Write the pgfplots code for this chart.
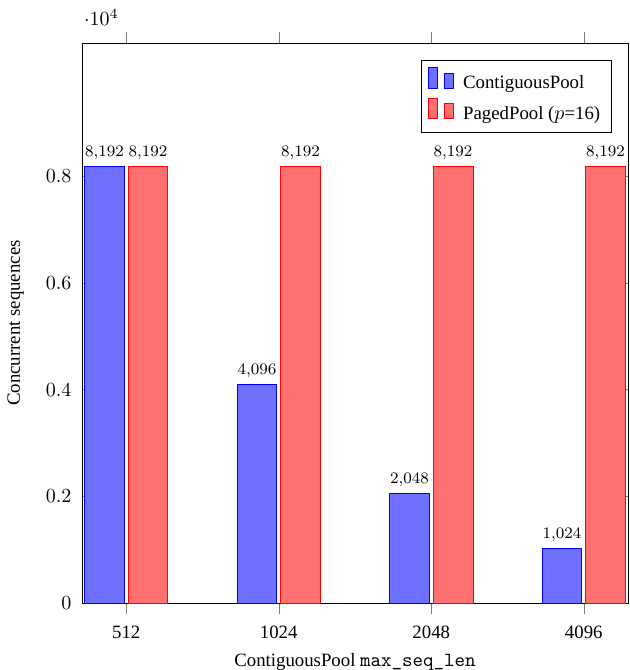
\documentclass[border=0pt]{standalone}
\usepackage{fontspec}
\setmainfont{Liberation Serif}[Scale=0.94]
\usepackage{pgfplots}
\pgfplotsset{compat=1.18}
\begin{document}
\begin{tikzpicture}
\begin{axis}[
  scale only axis,
  width=273pt, height=280pt,
  ybar, bar width=0.26,
  ybar=2pt,
  xmin=-0.29, xmax=3.29,
  ymin=0, ymax=10500,
  xtick={0,1,2,3},
  xticklabels={512,1024,2048,4096},
  xtick align=outside,
  major tick length=5.5pt,
  xticklabel style={yshift=-2.5pt},
  ytick={0,2000,4000,6000,8000},
  yticklabel style={xshift=-2pt},
  ylabel={Concurrent sequences},
  ylabel style={yshift=4.5pt},
  xlabel={ContiguousPool \texttt{max\_seq\_len}},
  xlabel style={yshift=-1pt},
  nodes near coords,
  every node near coord/.append style={font=\footnotesize, text=black},
  legend style={at={(0.97,0.97)}, anchor=north east, font=\normalsize, row sep=1pt, inner sep=3.5pt},
  legend cell align=left,
  every axis plot post/.append style={legend image code/.code={
    \draw[##1] (0pt,-0.25em) rectangle (4.5pt,0.85em);
    \draw[##1] (8pt,-0.25em) rectangle (12.5pt,0.55em);}},
]
\addplot[draw=blue, fill=blue!56] coordinates {(0,8192) (1,4096) (2,2048) (3,1024)};
\addplot[draw=red, fill=red!56] coordinates {(0,8192) (1,8192) (2,8192) (3,8192)};
\legend{\hspace{2.5pt}ContiguousPool, \hspace{2.5pt}PagedPool ($p$=16)}
\end{axis}
\pgfresetboundingbox
\path ([xshift=-41pt,yshift=-33.5pt]current axis.south west) rectangle ([xshift=1pt,yshift=21.5pt]current axis.north east);
\end{tikzpicture}
\end{document}
